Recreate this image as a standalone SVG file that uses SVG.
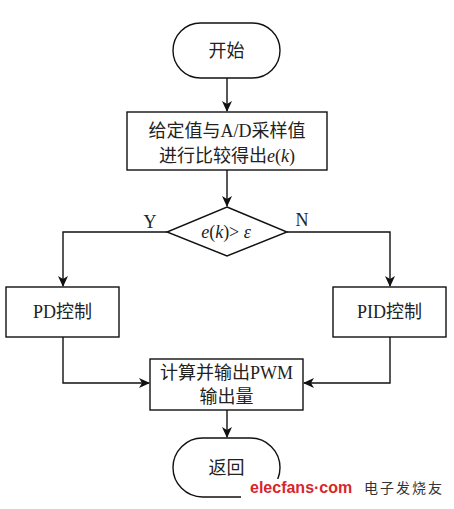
<svg xmlns="http://www.w3.org/2000/svg" width="454" height="509" viewBox="0 0 454 509">
<defs>
<marker id="arr" markerWidth="11" markerHeight="10" refX="10" refY="5" orient="auto" markerUnits="userSpaceOnUse">
<path d="M0,0 L11,5 L0,10 L3,5 Z" fill="#111"/>
</marker>
<style>
.shape{fill:#fff;stroke:#111;stroke-width:1.4}
.ln{fill:none;stroke:#111;stroke-width:1.4}
.t{font-family:"Liberation Serif","Noto Sans CJK SC",serif;font-size:18px;fill:#222;text-anchor:middle}
.i{font-style:italic}
</style>
</defs>
<rect width="454" height="509" fill="#fff"/>
<g id="connectors">
<line class="ln" x1="227" y1="78" x2="227" y2="111" marker-end="url(#arr)"/>
<line class="ln" x1="227" y1="170" x2="227" y2="206" marker-end="url(#arr)"/>
<polyline class="ln" points="167,232 63,232 63,286" marker-end="url(#arr)"/>
<polyline class="ln" points="287,232 390,232 390,286" marker-end="url(#arr)"/>
<polyline class="ln" points="63,337 63,383 149,383" marker-end="url(#arr)"/>
<polyline class="ln" points="390,337 390,383 304,383" marker-end="url(#arr)"/>
<line class="ln" x1="227" y1="410" x2="227" y2="437" marker-end="url(#arr)"/>
<text class="t" x="150" y="228">Y</text>
<text class="t" x="302" y="226">N</text>
</g>
<g id="start">
<rect class="shape" x="173" y="23" width="107" height="55" rx="27.5"/>
<text class="t" x="226.5" y="57">开始</text>
</g>
<g id="compare">
<rect class="shape" x="127" y="112" width="200" height="58"/>
<text class="t" x="227" y="137">给定值与A/D采样值</text>
<text class="t" x="227" y="162">进行比较得出<tspan class="i">e</tspan>(<tspan class="i">k</tspan>)</text>
</g>
<g id="decision">
<polygon class="shape" points="227,207 287,232 227,256 167,232"/>
<text class="t" x="226" y="238"><tspan class="i">e</tspan>(<tspan class="i">k</tspan>)&gt; <tspan class="i">ε</tspan></text>
</g>
<g id="pd">
<rect class="shape" x="6" y="287" width="113" height="50"/>
<text class="t" x="62.5" y="318">PD控制</text>
</g>
<g id="pid">
<rect class="shape" x="333" y="287" width="113" height="50"/>
<text class="t" x="389.5" y="318">PID控制</text>
</g>
<g id="output">
<rect class="shape" x="150" y="359" width="153" height="51"/>
<text class="t" x="226.5" y="379">计算并输出PWM</text>
<text class="t" x="226.5" y="403">输出量</text>
</g>
<g id="return">
<rect class="shape" x="173" y="438" width="107" height="59" rx="29.5"/>
<text class="t" x="226.5" y="474">返回</text>
</g>
<g id="watermark">
<rect x="241" y="479" width="210" height="25" fill="#fff"/>
<text x="250" y="493" font-family="Liberation Sans, sans-serif" font-weight="bold" font-size="16" fill="#d8262b">elecfans·com</text>
<text x="364" y="493" font-family="Noto Sans CJK SC, sans-serif" font-size="14" fill="#333" letter-spacing="2">电子发烧友</text>
</g>
</svg>
